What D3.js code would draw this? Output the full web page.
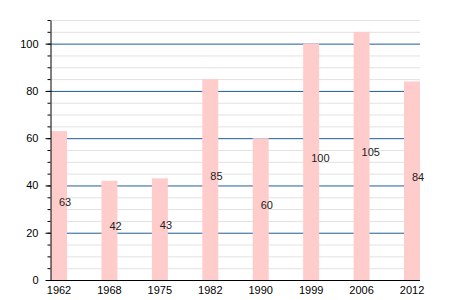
<!DOCTYPE html>
<html>
<head>
<meta charset="utf-8">
<script src="https://cdn.jsdelivr.net/npm/d3@7"></script>
<style>
  body { margin: 0; background: #fff; }
  svg text { font-family: "Liberation Sans", Arial, sans-serif; font-size: 11px; }
</style>
</head>
<body>
<svg id="chart" width="450" height="300"></svg>
<script>
// chart data
var years = ['1962', '1968', '1975', '1982', '1990', '1999', '2006', '2012'];
var values = [63, 42, 43, 85, 60, 100, 105, 84];
var majorTicks = [0, 20, 40, 60, 80, 100];

var margin = {top: 20, right: 30, bottom: 20, left: 50};
var width = 450, height = 300;
var svg = d3.select('#chart');

var x = d3.scaleBand()
    .domain(years)
    .range([margin.left + 1, width - margin.right])
    .paddingInner(0.683)
    .paddingOuter(0);

var y = d3.scaleLinear()
    .domain([0, 110])
    .range([height - margin.bottom, margin.top]);

var minorTicks = d3.range(0, 111, 5);

// minor grid
svg.append('g')
  .selectAll('line')
  .data(minorTicks.filter(function(d){ return d % 20 !== 0; }))
  .enter().append('line')
    .attr('x1', margin.left).attr('x2', width - margin.right)
    .attr('y1', function(d){ return y(d) + 0.5; })
    .attr('y2', function(d){ return y(d) + 0.5; })
    .attr('stroke', '#e2e2e2');

// major grid
svg.append('g')
  .selectAll('line')
  .data(majorTicks.filter(function(d){ return d > 0; }))
  .enter().append('line')
    .attr('x1', margin.left).attr('x2', width - margin.right)
    .attr('y1', function(d){ return y(d) + 0.5; })
    .attr('y2', function(d){ return y(d) + 0.5; })
    .attr('stroke', '#1f5c99');

// bars
svg.append('g')
  .selectAll('rect')
  .data(values)
  .enter().append('rect')
    .attr('x', function(d, i){ return x(years[i]); })
    .attr('width', x.bandwidth())
    .attr('y', function(d){ return y(d); })
    .attr('height', function(d){ return y(0) - y(d); })
    .attr('fill', '#ffcccc');

// value labels
svg.append('g')
  .selectAll('text')
  .data(values)
  .enter().append('text')
    .attr('x', function(d, i){ return x(years[i]) + x.bandwidth() / 2; })
    .attr('y', function(d){ return (y(d) + y(0)) / 2; })
    .attr('fill', '#222')
    .text(function(d){ return d; });

// y axis minor ticks
svg.append('g')
  .attr('transform', 'translate(' + (margin.left + 0.5) + ',0)')
  .call(d3.axisLeft(y).tickValues(minorTicks).tickSize(3).tickFormat(''))
  .call(function(g){ g.select('.domain').remove(); });

// y axis major
var yAxis = svg.append('g')
  .attr('transform', 'translate(' + (margin.left + 0.5) + ',0)')
  .call(d3.axisLeft(y).tickValues(majorTicks).tickSize(5).tickPadding(7).tickSizeOuter(0));
yAxis.selectAll('text').attr('fill', '#000').style('font-size', '11px');

// x axis
var xAxis = svg.append('g')
  .attr('transform', 'translate(0,' + (y(0) + 0.5) + ')')
  .call(d3.axisBottom(x).tickSize(0).tickPadding(6));
xAxis.select('.domain').attr('d', 'M' + margin.left + ',0H' + (width - margin.right));
xAxis.selectAll('text').attr('fill', '#000').style('font-size', '11px');
</script>
</body>
</html>
